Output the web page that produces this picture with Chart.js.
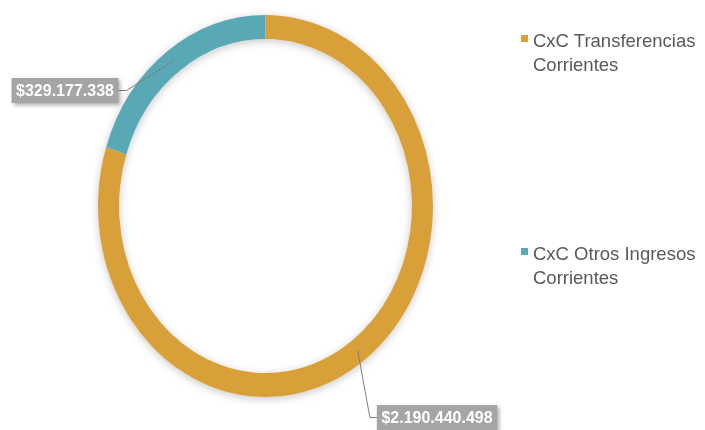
<!DOCTYPE html>
<html lang="es">
<head>
    <meta charset="UTF-8">
    <title>CxC Corrientes</title>
    <script src="https://cdn.jsdelivr.net/npm/chart.js"></script>
    <style>
        body { margin: 0; background: #fff; }
        .wrap { position: relative; width: 705px; height: 430px; }
        .legend-item {
            position: absolute;
            left: 533px;
            font-family: "Liberation Sans", Arial, sans-serif;
            font-size: 18.5px;
            line-height: 24px;
            color: #595959;
        }
        .legend-item .box {
            position: absolute;
            left: -12.5px;
            top: 6px;
            width: 7px;
            height: 7px;
        }
    </style>
</head>
<body>
    <div class="wrap">
        <canvas id="chart" width="705" height="430"></canvas>
        <div id="legend"></div>
    </div>

    <script>
        // data
        const labels = ['CxC Transferencias Corrientes', 'CxC Otros Ingresos Corrientes'];
        const legendLines = [['CxC Transferencias', 'Corrientes'], ['CxC Otros Ingresos', 'Corrientes']];
        const valueText = ['$2.190.440.498', '$329.177.338'];
        // share of the ring each slice takes in the picture (%)
        const sliceShare = [80, 20];
        const colors = ['#D9A03A', '#58A8B5'];

        // look of the picture (not data)
        const squashX = 0.877;              // the ring is drawn as an ellipse
        const anchorFrac = [0.5, 0.5];      // where along each slice the leader starts
        const boxOffset = [[171.5, 211.5], [-200.5, -115.5]];  // label box centre from ring centre
        const legendTop = [29, 241.5];

        // legend in html
        const legend = document.getElementById('legend');
        legendLines.forEach((lines, i) => {
            const item = document.createElement('div');
            item.className = 'legend-item';
            item.style.top = legendTop[i] + 'px';
            item.innerHTML = '<span class="box" style="background:' + colors[i] + '"></span>' + lines.join('<br>');
            legend.appendChild(item);
        });

        // squash the doughnut into an ellipse and give it a soft shadow
        const ellipse = {
            id: 'ellipse',
            beforeDatasetsDraw(chart) {
                const ctx = chart.ctx;
                const arc = chart.getDatasetMeta(0).data[0];
                const { x, y, innerRadius, outerRadius } = arc.getProps(['x', 'y', 'innerRadius', 'outerRadius'], true);
                ctx.save();
                ctx.translate(x, y);
                ctx.scale(squashX, 1);
                ctx.translate(-x, -y);

                ctx.save();
                ctx.shadowColor = 'rgba(0,0,0,0.22)';
                ctx.shadowBlur = 8;
                ctx.shadowOffsetY = 2;
                ctx.beginPath();
                ctx.arc(x, y, outerRadius, 0, Math.PI * 2);
                ctx.arc(x, y, innerRadius, Math.PI * 2, 0, true);
                ctx.fillStyle = '#fff';
                ctx.fill();
                ctx.restore();
            },
            afterDatasetsDraw(chart) {
                chart.ctx.restore();
            }
        };

        // grey value boxes with leader lines
        const valueLabels = {
            id: 'valueLabels',
            afterDraw(chart) {
                const ctx = chart.ctx;
                const meta = chart.getDatasetMeta(0);
                ctx.save();
                ctx.font = 'bold 16px "Liberation Sans", Arial, sans-serif';
                ctx.textBaseline = 'middle';
                meta.data.forEach((el, i) => {
                    const p = el.getProps(['x', 'y', 'startAngle', 'endAngle', 'innerRadius', 'outerRadius'], true);
                    const a = p.startAngle + anchorFrac[i] * (p.endAngle - p.startAngle);
                    const r = (p.innerRadius + p.outerRadius) / 2;
                    const ax = p.x + Math.cos(a) * r * squashX;
                    const ay = p.y + Math.sin(a) * r;

                    const text = valueText[i];
                    const w = ctx.measureText(text).width + 9;
                    const h = 25;
                    const bx = p.x + boxOffset[i][0];
                    const by = p.y + boxOffset[i][1];
                    const left = bx - w / 2;
                    const onLeft = bx < ax;
                    const edgeX = onLeft ? left + w : left;
                    const elbowX = onLeft ? edgeX + 8 : edgeX - 7;

                    // leader
                    ctx.strokeStyle = '#7F7F7F';
                    ctx.lineWidth = 1;
                    ctx.beginPath();
                    ctx.moveTo(ax, ay);
                    ctx.lineTo(elbowX, by);
                    ctx.lineTo(edgeX, by);
                    ctx.stroke();

                    // box
                    ctx.save();
                    ctx.shadowColor = 'rgba(0,0,0,0.35)';
                    ctx.shadowBlur = 4;
                    ctx.shadowOffsetX = 2;
                    ctx.shadowOffsetY = 2;
                    ctx.fillStyle = '#A5A5A5';
                    ctx.fillRect(left, by - h / 2, w, h);
                    ctx.restore();

                    ctx.fillStyle = '#FFFFFF';
                    ctx.textAlign = 'center';
                    ctx.fillText(text, bx, by + 1);
                });
                ctx.restore();
            }
        };

        new Chart(document.getElementById('chart'), {
            type: 'doughnut',
            data: {
                labels: labels,
                datasets: [{
                    data: sliceShare,
                    backgroundColor: colors,
                    borderWidth: 0
                }]
            },
            options: {
                responsive: false,
                animation: false,
                cutout: '87.4%',
                layout: { padding: { left: 74.5, top: 15, right: 248.5, bottom: 33 } },
                plugins: {
                    legend: { display: false },
                    tooltip: { enabled: false }
                }
            },
            plugins: [ellipse, valueLabels]
        });
    </script>
</body>
</html>
